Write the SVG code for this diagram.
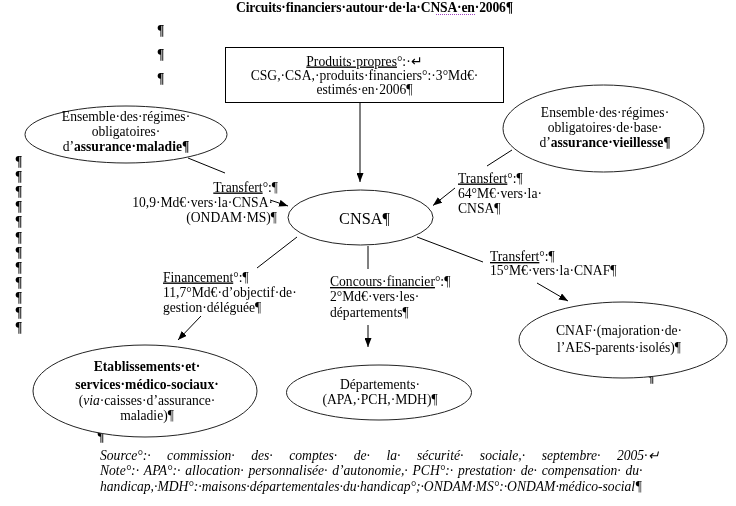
<svg xmlns="http://www.w3.org/2000/svg" width="736" height="506" viewBox="0 0 736 506">
<style>
text { font-family: "Liberation Serif", "Times New Roman", serif; font-size: 13.6px; fill: #000; }
.b { font-weight: bold; }
.i { font-style: italic; }
.u { text-decoration: underline; }
.m { text-anchor: middle; }
.e { text-anchor: end; }
.big { font-size: 16.3px; }
.pil { font-weight: bold; font-size: 13.6px; fill: #000; }
.shape { fill: #fff; stroke: #222; stroke-width: 1; }
.box { fill: #fff; stroke: #000; stroke-width: 1; }
.conn line { stroke: #000; stroke-width: 1; fill: none; }
.spell { stroke: #a040c0; stroke-width: 1; stroke-dasharray: 1 1; }
</style>
<defs>
<marker id="ah" markerWidth="9" markerHeight="7" refX="9" refY="3.5" orient="auto" markerUnits="userSpaceOnUse">
<path d="M0,0 L9,3.5 L0,7 z" fill="#000"/>
</marker>
<filter id="gray" filterUnits="userSpaceOnUse" x="0" y="0" width="736" height="506">
<feColorMatrix type="saturate" values="0"/>
</filter>
</defs>
<rect width="736" height="506" fill="#fff"/>

<g id="diagram" filter="url(#gray)">
<g id="title">
<text class="b" x="236" y="11.5" textLength="277" lengthAdjust="spacing">Circuits·financiers·autour·de·la·CNSA·en·2006¶</text>
</g>

<g id="marks">
<text class="pil" x="157" y="35">¶</text>
<text class="pil" x="157" y="59">¶</text>
<text class="pil" x="157" y="83">¶</text>
<text class="pil" x="15" y="166">¶</text>
<text class="pil" x="15" y="181.1">¶</text>
<text class="pil" x="15" y="196.2">¶</text>
<text class="pil" x="15" y="211.3">¶</text>
<text class="pil" x="15" y="226.4">¶</text>
<text class="pil" x="15" y="241.5">¶</text>
<text class="pil" x="15" y="256.6">¶</text>
<text class="pil" x="15" y="271.7">¶</text>
<text class="pil" x="15" y="286.8">¶</text>
<text class="pil" x="15" y="301.9">¶</text>
<text class="pil" x="15" y="317">¶</text>
<text class="pil" x="15" y="332.1">¶</text>
<text class="pil" x="647" y="382">¶</text>
<text class="pil" x="97" y="441">¶</text>
</g>

<g class="conn" id="connectors">
<line x1="360" y1="102" x2="360" y2="182" marker-end="url(#ah)"/>
<line x1="188" y1="158" x2="225" y2="173"/>
<line x1="270" y1="200" x2="288" y2="206" marker-end="url(#ah)"/>
<line x1="512" y1="150" x2="487" y2="166"/>
<line x1="455" y1="188" x2="433" y2="205.5" marker-end="url(#ah)"/>
<line x1="297" y1="237" x2="257" y2="268"/>
<line x1="201" y1="316" x2="178" y2="340" marker-end="url(#ah)"/>
<line x1="368" y1="246" x2="368" y2="269"/>
<line x1="368" y1="325" x2="368" y2="347" marker-end="url(#ah)"/>
<line x1="417" y1="237" x2="483" y2="262"/>
<line x1="537" y1="283" x2="568" y2="301" marker-end="url(#ah)"/>
</g>

<g id="produits">
<rect class="box" x="225.5" y="47.5" width="278" height="55"/>
<text class="m" x="364.5" y="65.5"><tspan class="u">Produits·propres</tspan>°:·↵</text>
<text class="m" x="364.5" y="79.5">CSG,·CSA,·produits·financiers°:·3°Md€·</text>
<text class="m" x="364.5" y="93.5">estimés·en·2006¶</text>
</g>

<g id="maladie">
<ellipse class="shape" cx="126" cy="134.5" rx="101" ry="28.5"/>
<text class="m" x="126" y="121">Ensemble·des·régimes·</text>
<text class="m" x="126" y="136">obligatoires·</text>
<text class="m" x="126" y="151">d’<tspan class="b">assurance·maladie¶</tspan></text>
</g>

<g id="vieillesse">
<ellipse class="shape" cx="603.5" cy="128.5" rx="100.5" ry="43.5"/>
<text class="m" x="605" y="117">Ensemble·des·régimes·</text>
<text class="m" x="605" y="132">obligatoires·de·base·</text>
<text class="m" x="605" y="147">d’<tspan class="b">assurance·vieillesse¶</tspan></text>
</g>

<g id="cnsa">
<ellipse class="shape" cx="360.5" cy="217.5" rx="72.5" ry="27.5"/>
<text class="big m" x="364.5" y="224">CNSA¶</text>
</g>

<g id="label-transfert-maladie">
<text class="e" x="278" y="191.5"><tspan class="u">Transfert</tspan>°:¶</text>
<text class="e" x="273" y="206.5">10,9·Md€·vers·la·CNSA·</text>
<text class="e" x="277" y="221.5">(ONDAM·MS)¶</text>
</g>

<g id="label-transfert-vieillesse">
<text x="458" y="182.5"><tspan class="u">Transfert</tspan>°:¶</text>
<text x="458" y="197.5">64°M€·vers·la·</text>
<text x="458" y="213">CNSA¶</text>
</g>

<g id="label-financement">
<text x="163" y="281.5"><tspan class="u">Financement</tspan>°:¶</text>
<text x="163" y="296.5">11,7°Md€·d’objectif·de·</text>
<text x="163" y="311.5">gestion·déléguée¶</text>
</g>

<g id="label-concours">
<text x="330" y="286"><tspan class="u">Concours·financier</tspan>°:¶</text>
<text x="330" y="301">2°Md€·vers·les·</text>
<text x="330" y="316.5">départements¶</text>
</g>

<g id="label-transfert-cnaf">
<text x="490" y="261"><tspan class="u">Transfert</tspan>°:¶</text>
<text x="490" y="275">15°M€·vers·la·CNAF¶</text>
</g>

<g id="cnaf">
<ellipse class="shape" cx="623" cy="340" rx="104" ry="38"/>
<text class="m" x="619" y="335">CNAF·(majoration·de·</text>
<text class="m" x="619" y="352">l’AES-parents·isolés)¶</text>
</g>

<g id="etablissements">
<ellipse class="shape" cx="145" cy="391" rx="112" ry="46"/>
<text class="m b" x="147" y="371">Etablissements·et·</text>
<text class="m b" x="147" y="389">services·médico-sociaux·</text>
<text class="m" x="147" y="404.5">(<tspan class="i">via</tspan>·caisses·d’assurance·</text>
<text class="m" x="147" y="419.5">maladie)¶</text>
</g>

<g id="departements">
<ellipse class="shape" cx="379" cy="392.5" rx="92.5" ry="27.5"/>
<text class="m" x="380" y="388.5">Départements·</text>
<text class="m" x="380" y="404">(APA,·PCH,·MDH)¶</text>
</g>

<g id="footer">
<text class="i" x="100" y="459.5">Source°:·<tspan dx="16.5">commission·</tspan><tspan dx="16.5">des·</tspan><tspan dx="16.5">comptes·</tspan><tspan dx="16.5">de·</tspan><tspan dx="16.5">la·</tspan><tspan dx="16.5">sécurité·</tspan><tspan dx="16.5">sociale,·</tspan><tspan dx="16.5">septembre·</tspan><tspan dx="16.5">2005·↵</tspan></text>
<text class="i" x="100" y="475">Note°:·<tspan dx="4.8">APA°:·</tspan><tspan dx="4.8">allocation·</tspan><tspan dx="4.8">personnalisée·</tspan><tspan dx="4.8">d’autonomie,·</tspan><tspan dx="4.8">PCH°:·</tspan><tspan dx="4.8">prestation·</tspan><tspan dx="4.8">de·</tspan><tspan dx="4.8">compensation·</tspan><tspan dx="4.8">du·</tspan></text>
<text class="i" x="100" y="490.5">handicap,·MDH°:·maisons·départementales·du·handicap°;·ONDAM·MS°:·ONDAM·médico-social¶</text>
</g>
</g>

<line id="title-spellcheck" class="spell" x1="436" y1="14.5" x2="475" y2="14.5"/>
</svg>
